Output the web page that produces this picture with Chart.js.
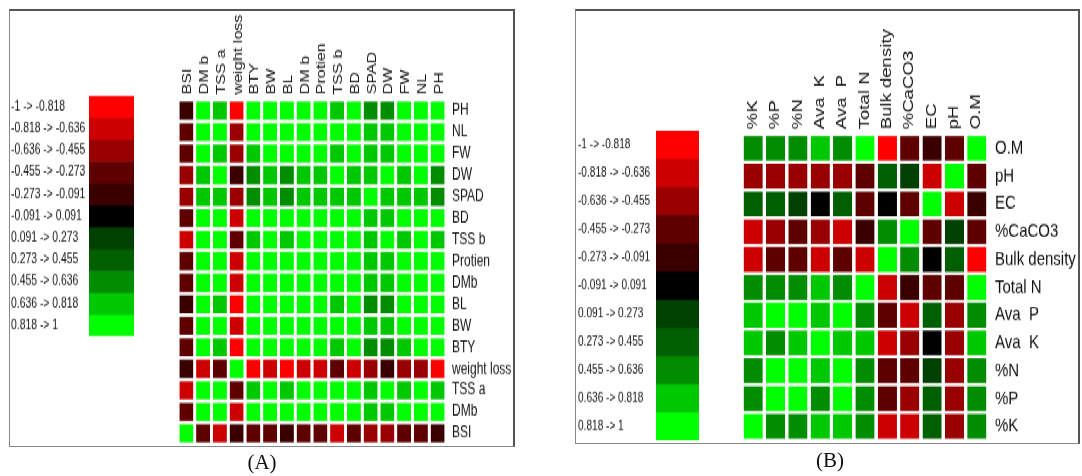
<!DOCTYPE html>
<html>
<head>
<meta charset="utf-8">
<script src="https://cdn.jsdelivr.net/npm/chart.js@4.4.1/dist/chart.umd.min.js"></script>
<style>
  body { margin: 0; background: #fff; width: 1082px; height: 476px; position: relative; overflow: hidden; }
  .frame { position: absolute; box-sizing: border-box; border: 1px solid #888; border-top: 2px solid #555; border-right: 2px solid #555; }
  .stretch { position: absolute; left: 0; top: 0; width: 1082px; height: 360px; transform-origin: 0 0; }
  canvas { position: absolute; }
  .cap { position: absolute; width: 100px; text-align: center; font-family: "Liberation Serif", "DejaVu Serif", serif; font-size: 21px; line-height: 26px; color: #111; }
</style>
</head>
<body>
<div class="frame" style="left:9px;top:9px;width:506px;height:438px;"></div>
<div class="frame" style="left:575px;top:9px;width:505px;height:435px;"></div>

<!-- the source figure is stretched vertically, so each panel is drawn squashed and scaled back up -->
<div class="stretch" style="transform:scaleY(1.35)">
  <canvas id="legendA" width="123" height="182" style="left:11px;top:69px"></canvas>
  <canvas id="heatA" width="343" height="322" style="left:170px;top:7px"></canvas>
</div>
<div class="stretch" style="transform:scaleY(1.28)">
  <canvas id="legendB" width="121" height="246" style="left:578px;top:100px"></canvas>
  <canvas id="heatB" width="345" height="336" style="left:735px;top:8px"></canvas>
</div>

<div class="cap" style="left:212px;top:449px">(A)</div>
<div class="cap" style="left:780px;top:447px">(B)</div>

<script>
// bins of the colour key
const binEdges = [-1, -0.818, -0.636, -0.455, -0.273, -0.091, 0.091, 0.273, 0.455, 0.636, 0.818, 1];
const binLabels = [
  "-1 -> -0.818", "-0.818 -> -0.636", "-0.636 -> -0.455", "-0.455 -> -0.273",
  "-0.273 -> -0.091", "-0.091 -> 0.091", "0.091 -> 0.273", "0.273 -> 0.455",
  "0.455 -> 0.636", "0.636 -> 0.818", "0.818 -> 1",
];

// panel A
const colsA = ["BSI", "DM b", "TSS a", "weight loss", "BTY", "BW", "BL", "DM b", "Protien", "TSS b", "BD", "SPAD", "DW", "FW", "NL", "PH"];
const rowsA = ["PH", "NL", "FW", "DW", "SPAD", "BD", "TSS b", "Protien", "DMb", "BL", "BW", "BTY", "weight loss", "TSS a", "DMb", "BSI"];
const corrA = [
  [-0.18, 0.91, 0.73, -0.91, 0.91, 0.91, 0.91, 0.91, 0.91, 0.73, 0.91, 0.55, 0.55, 0.91, 0.91, 1],
  [-0.36, 0.91, 0.91, -0.55, 0.91, 0.91, 0.91, 0.91, 0.91, 0.91, 0.91, 0.73, 0.73, 0.91, 1, 0.91],
  [-0.36, 0.91, 0.73, -0.55, 0.73, 0.91, 0.91, 0.91, 0.91, 0.73, 0.91, 0.73, 0.73, 1, 0.91, 0.91],
  [-0.55, 0.73, 0.91, -0.18, 0.55, 0.73, 0.55, 0.73, 0.73, 0.91, 0.73, 0.73, 1, 0.73, 0.91, 0.55],
  [-0.55, 0.73, 0.73, -0.55, 0.55, 0.73, 0.55, 0.73, 0.73, 0.73, 0.73, 1, 0.73, 0.73, 0.73, 0.55],
  [-0.36, 0.91, 0.91, -0.73, 0.91, 0.91, 0.91, 0.91, 0.91, 0.91, 1, 0.73, 0.73, 0.91, 0.91, 0.91],
  [-0.73, 0.91, 0.91, -0.36, 0.73, 0.91, 0.73, 0.91, 0.91, 1, 0.91, 0.73, 0.91, 0.73, 0.91, 0.73],
  [-0.36, 0.91, 0.91, -0.73, 0.91, 0.91, 0.91, 0.91, 1, 0.91, 0.91, 0.73, 0.73, 0.91, 0.91, 0.91],
  [-0.36, 0.91, 0.91, -0.73, 0.91, 0.91, 0.91, 1, 0.91, 0.91, 0.91, 0.73, 0.73, 0.91, 0.91, 0.91],
  [-0.18, 0.91, 0.73, -0.91, 0.91, 0.91, 1, 0.91, 0.91, 0.73, 0.91, 0.55, 0.55, 0.91, 0.91, 0.91],
  [-0.36, 0.91, 0.91, -0.73, 0.91, 1, 0.91, 0.91, 0.91, 0.91, 0.91, 0.73, 0.73, 0.91, 0.91, 0.91],
  [-0.36, 0.91, 0.73, -0.91, 1, 0.91, 0.91, 0.91, 0.91, 0.73, 0.91, 0.55, 0.55, 0.73, 0.91, 0.91],
  [-0.18, -0.73, -0.36, 1, -0.91, -0.73, -0.91, -0.73, -0.73, -0.36, -0.73, -0.55, -0.18, -0.55, -0.55, -0.91],
  [-0.73, 0.91, 1, -0.36, 0.73, 0.91, 0.73, 0.91, 0.91, 0.91, 0.91, 0.73, 0.91, 0.73, 0.91, 0.73],
  [-0.36, 1, 0.91, -0.73, 0.91, 0.91, 0.91, 0.91, 0.91, 0.91, 0.91, 0.73, 0.73, 0.91, 0.91, 0.91],
  [1, -0.36, -0.73, -0.18, -0.36, -0.36, -0.18, -0.36, -0.36, -0.73, -0.36, -0.55, -0.55, -0.36, -0.36, -0.18],
];

// panel B
const colsB = ["%K", "%P", "%N", "Ava  K", "Ava  P", "Total N", "Bulk density", "%CaCO3", "EC", "pH", "O.M"];
const rowsB = ["O.M", "pH", "EC", "%CaCO3", "Bulk density", "Total N", "Ava  P", "Ava  K", "%N", "%P", "%K"];
const corrB = [
  [0.55, 0.55, 0.55, 0.73, 0.55, 0.91, -0.91, -0.36, -0.18, -0.36, 1],
  [-0.55, -0.55, -0.55, -0.55, -0.55, -0.36, 0.36, 0.18, -0.73, 1, -0.36],
  [0.36, 0.36, 0.18, 0, 0.36, -0.36, 0, -0.36, 1, -0.73, -0.18],
  [-0.73, -0.55, -0.36, -0.55, -0.73, -0.18, 0.55, 1, -0.36, 0.18, -0.36],
  [-0.73, -0.36, -0.36, -0.73, -0.36, -0.73, 1, 0.55, 0, 0.36, -0.91],
  [0.55, 0.55, 0.55, 0.73, 0.55, 1, -0.73, -0.18, -0.36, -0.36, 0.91],
  [0.73, 0.91, 0.91, 0.73, 1, 0.55, -0.36, -0.73, 0.36, -0.55, 0.55],
  [0.73, 0.55, 0.73, 1, 0.73, 0.73, -0.73, -0.55, 0, -0.55, 0.73],
  [0.55, 0.91, 1, 0.73, 0.91, 0.55, -0.36, -0.36, 0.18, -0.55, 0.55],
  [0.55, 1, 0.91, 0.55, 0.91, 0.55, -0.36, -0.55, 0.36, -0.55, 0.55],
  [1, 0.55, 0.55, 0.73, 0.73, 0.55, -0.73, -0.73, 0.36, -0.55, 0.55],
];

const palette = ["#ff0000", "#cc0000", "#990000", "#5e0000", "#3a0000", "#000000",
                 "#004000", "#005f00", "#008e00", "#00c800", "#00ff00"];

Chart.defaults.font.family = "'Liberation Sans', Arial, sans-serif";
Chart.defaults.color = "#111";

const colorFor = (v) => {
  for (let i = 0; i < palette.length; i++) {
    if (v < binEdges[i + 1]) return palette[i];
  }
  return palette[palette.length - 1];
};

const noGrid = { display: false, drawTicks: false };

// keep the axes from reserving room for half-labels at the ends
const noEndPad = (s) => {
  s.paddingTop = 0;
  s.paddingBottom = 0;
  s.paddingLeft = 0;
  s.paddingRight = 0;
};

function heatmap(id, cols, rows, corr, o) {
  new Chart(document.getElementById(id), {
    type: "bar",
    data: {
      labels: cols,
      datasets: rows.map((name, r) => ({
        label: name,
        data: cols.map(() => 1),
        backgroundColor: corr[r].map(colorFor),
        borderColor: "#fff",
        borderWidth: { top: o.gap, bottom: o.gap, left: 0, right: 0 },
        borderSkipped: false,
        inflateAmount: 0,
        barPercentage: o.barPct,
        categoryPercentage: 1,
      })),
    },
    options: {
      responsive: false,
      animation: false,
      events: [],
      layout: { padding: { left: o.padL, top: 0, right: 0, bottom: 0 } },
      scales: {
        x: {
          position: "top",
          stacked: true,
          grid: noGrid,
          border: { display: false },
          ticks: {
            minRotation: 90, maxRotation: 90, autoSkip: false,
            padding: o.xPad, labelOffset: o.xShift, font: { size: o.colFont },
          },
          afterFit: (s) => { s.height = o.xH; noEndPad(s); },
        },
        y: {
          position: "right",
          stacked: true,
          min: 0,
          max: rows.length,
          reverse: true,
          grid: noGrid,
          border: { display: false },
          afterBuildTicks: (s) => { s.ticks = rows.map((_, i) => ({ value: i + 0.5 })); },
          ticks: { autoSkip: false, padding: o.yPad, font: { size: o.rowFont }, callback: (v, i) => rows[i] },
          afterFit: (s) => { s.width = o.yW; noEndPad(s); },
        },
      },
      plugins: { legend: { display: false }, tooltip: { enabled: false } },
    },
  });
}

function colorKey(id, o) {
  new Chart(document.getElementById(id), {
    type: "bar",
    data: {
      labels: [""],
      datasets: binLabels.map((l, i) => ({
        label: l,
        data: [[binEdges[i], binEdges[i + 1]]],
        backgroundColor: palette[i],
        borderWidth: 0,
        grouped: false,
        barPercentage: 1,
        categoryPercentage: 1,
      })),
    },
    options: {
      responsive: false,
      animation: false,
      events: [],
      layout: { padding: { top: 2, bottom: 2, left: 0, right: 0 } },
      scales: {
        x: { display: false },
        y: {
          position: "left",
          min: -1,
          max: 1,
          reverse: true,
          grid: noGrid,
          border: { display: false },
          afterBuildTicks: (s) => {
            s.ticks = binLabels.map((_, i) => ({ value: (binEdges[i] + binEdges[i + 1]) / 2 }));
          },
          ticks: { autoSkip: false, crossAlign: "far", font: { size: o.font }, callback: (v, i) => binLabels[i] },
          afterFit: (s) => { s.width = o.yW; noEndPad(s); },
        },
      },
      plugins: { legend: { display: false }, tooltip: { enabled: false } },
    },
  });
}

colorKey("legendA", { font: 10.4, yW: 78 });
heatmap("heatA", colsA, rowsA, corrA, {
  gap: 1.3, barPct: 0.84, padL: 8, xH: 67, yW: 67, xPad: 4, xShift: 16, yPad: 6, colFont: 12, rowFont: 12,
});

colorKey("legendB", { font: 10.1, yW: 78 });
heatmap("heatB", colsB, rowsB, corrB, {
  gap: 1.2, barPct: 0.86, padL: 7, xH: 97, yW: 92, xPad: 4, xShift: 17, yPad: 7, colFont: 14.5, rowFont: 15,
});
</script>
</body>
</html>
